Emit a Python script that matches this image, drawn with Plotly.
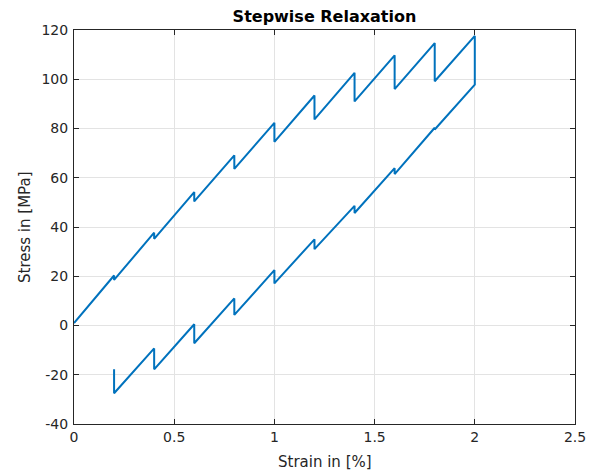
import plotly.graph_objects as go

# Strain [%] and stress [MPa] path (loading with holds, then unloading with holds)
strain = [0.0, 0.2, 0.2, 0.4, 0.4, 0.6, 0.6, 0.8, 0.8, 1.0, 1.0, 1.2, 1.2, 1.4, 1.4,
          1.6, 1.6, 1.8, 1.8, 2.0, 2.0,
          1.8, 1.8, 1.6, 1.6, 1.4, 1.4, 1.2, 1.2, 1.0, 1.0, 0.8, 0.8, 0.6, 0.6,
          0.4, 0.4, 0.2, 0.2]
stress = [1.0, 20.3, 18.5, 37.7, 35.2, 54.2, 50.4, 69.1, 63.6, 82.3, 74.6, 93.4, 83.7, 102.6, 91.0,
          109.7, 96.0, 114.7, 99.2, 117.6, 97.8,
          79.6, 80.3, 61.5, 63.9, 45.7, 48.6, 31.0, 35.0, 17.1, 22.5, 4.3, 11.0, -7.2, 0.5,
          -17.8, -9.3, -27.5, -17.8]

x_ticks = [0, 0.5, 1, 1.5, 2, 2.5]
x_tick_labels = ["0", "0.5", "1", "1.5", "2", "2.5"]
y_ticks = [-40, -20, 0, 20, 40, 60, 80, 100, 120]
y_tick_labels = ["-40", "-20", "0", "20", "40", "60", "80", "100", "120"]

W, H = 593, 472
L, R, T, B = 74, 18, 30, 48

fig = go.Figure()
fig.add_trace(go.Scatter(x=strain, y=stress, mode="lines",
                         line=dict(color="#0072BD", width=2), showlegend=False))

axis_common = dict(
    showline=True, linecolor="#262626", linewidth=1, mirror="ticks",
    ticks="inside", ticklen=5, tickcolor="#262626", tickwidth=1,
    showgrid=True, gridcolor="#e3e3e3", gridwidth=1, zeroline=False,
    automargin=False,
    tickfont=dict(family="DejaVu Sans", size=14, color="#262626"),
)

fig.update_layout(
    width=W, height=H,
    margin=dict(l=L, r=R, t=T, b=B, autoexpand=False),
    paper_bgcolor="white", plot_bgcolor="white",
    title=dict(text="<b>Stepwise Relaxation</b>", x=0.5, xref="paper", xanchor="center",
               y=1 - 16 / H, yref="container", yanchor="middle",
               font=dict(family="DejaVu Sans", size=16, color="black")),
    xaxis=dict(range=[0, 2.5], tickvals=x_ticks, ticktext=x_tick_labels, **axis_common),
    yaxis=dict(range=[-40, 120], tickvals=y_ticks, ticktext=y_tick_labels,
               ticklabelstandoff=2, **axis_common),
    annotations=[
        dict(text="Strain in [%]", xref="paper", yref="paper", x=0.5,
             y=-(462 - (H - B)) / (H - T - B), xanchor="center", yanchor="middle",
             showarrow=False, font=dict(family="DejaVu Sans", size=15, color="#262626")),
        dict(text="Stress in [MPa]", xref="paper", yref="paper",
             x=-(L - 25) / (W - L - R), y=0.5, xanchor="center", yanchor="middle",
             textangle=-90, showarrow=False,
             font=dict(family="DejaVu Sans", size=15, color="#262626")),
    ],
)

fig.write_html("out.html", config={"displayModeBar": False},
               post_script="document.body.style.margin='0';")
